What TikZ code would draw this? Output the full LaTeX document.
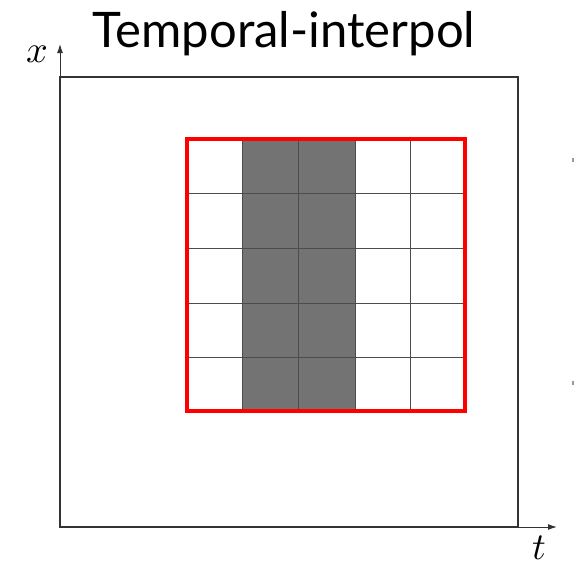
\documentclass[tikz,border=0pt]{standalone}
\usepackage{fontspec}
\setsansfont{Lato}
\usetikzlibrary{arrows.meta}
\begin{document}
\begin{tikzpicture}[x=1pt,y=-1pt,
  frame/.style={draw=black!80,line width=1.4pt},
  axis/.style={draw=black!80,line width=1pt,-{Latex[length=9pt,width=6pt]}},
  cell/.style={draw=black!70,line width=0.8pt},
  shade/.style={fill=black!55},
  redbox/.style={draw=red,line width=3.5pt},
  lbl/.style={scale=3.8,inner sep=0pt}]
\useasboundingbox (0,0) rectangle (574,570);
% shaded columns
\fill[shade] (242,139) rectangle (355,411);
% grid
\foreach \xx in {242,298,355,410}{\draw[cell] (\xx,139) -- (\xx,411);}
\foreach \yy in {193,248,303,357}{\draw[cell] (187,\yy) -- (465,\yy);}
\node[redbox,minimum width=278pt,minimum height=272pt,inner sep=0pt] (grid) at (326,275) {};
% frame and axes
\draw[frame] (60,77) rectangle (518,527);
\coordinate (o) at (60,527);
\coordinate (xt) at (60,44);
\coordinate (tt) at (557,527);
\draw[axis] (o) -- (xt);
\draw[axis] (o) -- (tt);
\node[lbl] (xl) at (37,54) {$x$};
\node[lbl] (tl) at (539,548) {$t$};
\node[inner sep=0pt,anchor=base] (title) at (284,47) {\sffamily\fontsize{49}{52}\selectfont Temporal-interpol};
% clipped marks at right edge
\fill[black!40] (572,158) rectangle (574,162);
\fill[black!40] (572,381) rectangle (574,385);
\end{tikzpicture}
\end{document}
